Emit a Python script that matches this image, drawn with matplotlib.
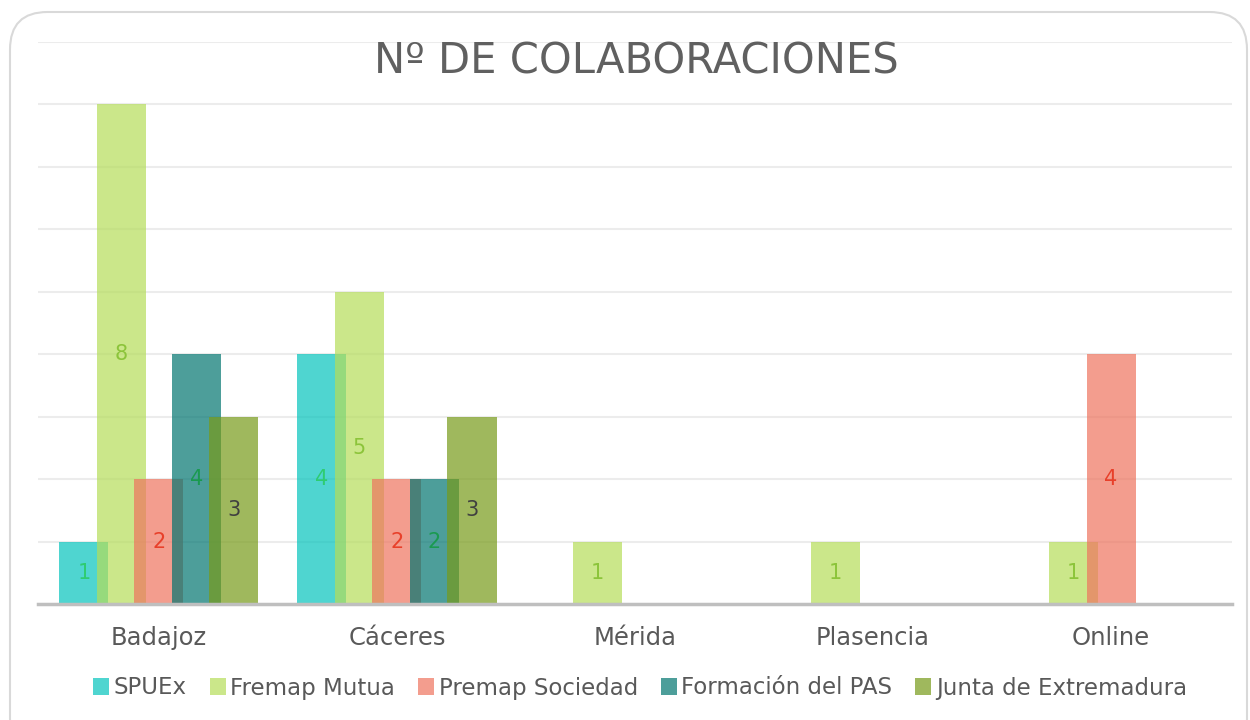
import numpy as np
import matplotlib.pyplot as plt
from matplotlib.patches import FancyBboxPatch, Patch

# Datos del gráfico
categorias = ["Badajoz", "Cáceres", "Mérida", "Plasencia", "Online"]
series = ["SPUEx", "Fremap Mutua", "Premap Sociedad", "Formación del PAS", "Junta de Extremadura"]
spuex = [1, 4, 0, 0, 0]
fremap = [8, 5, 1, 1, 1]
premap = [2, 2, 0, 0, 4]
formacion = [4, 2, 0, 0, 0]
junta = [3, 3, 0, 0, 0]
valores = [spuex, fremap, premap, formacion, junta]

colores = ["#04c4bc", "#b5dd59", "#ee745e", "#017570", "#779b19"]
colores_etiqueta = ["#2ecc71", "#8cc43a", "#e8402a", "#1a9a50", "#404040"]

plt.rcParams['font.family'] = ['DejaVu Sans']

fig = plt.figure(figsize=(12.5, 7.2), dpi=100)
ax = fig.add_axes([38 / 1250, 1 - 604 / 720, 1194 / 1250, 562 / 720])

# Marco redondeado
marco = FancyBboxPatch((10 / 1250, -0.05), 1237 / 1250, 1.05 - 12 / 720,
                       boxstyle="round,pad=0,rounding_size=0.03",
                       transform=fig.transFigure, fill=False,
                       edgecolor="#d9d9d9", linewidth=1.5, mutation_aspect=1250 / 720)
fig.patches.append(marco)

x = np.arange(len(categorias))
ancho = 0.206
paso = 0.1576

for i, vals in enumerate(valores):
    pos = x + (i - 2) * paso
    for xp, v in zip(pos, vals):
        if v > 0:
            ax.bar(xp, v, width=ancho, color=colores[i], alpha=0.7, zorder=2 + i)

for i, vals in enumerate(valores):
    pos = x + (i - 2) * paso
    for xp, v in zip(pos, vals):
        if v > 0:
            ax.text(xp, v / 2, str(v), ha="center", va="center", fontsize=15,
                    color=colores_etiqueta[i], zorder=10)

ax.set_xlim(-0.508, 4.508)
ax.set_ylim(0, 9)
ax.set_yticks(range(0, 10))
ax.yaxis.grid(True, color="#ececec", linewidth=1.5, zorder=0)
ax.set_axisbelow(True)
ax.tick_params(axis="y", left=False, labelleft=False)
ax.tick_params(axis="x", length=0, pad=16, labelsize=17.5, labelcolor="#595959")
ax.set_xticks(x)
ax.set_xticklabels(categorias)
for s in ["top", "left", "right"]:
    ax.spines[s].set_visible(False)
ax.spines["bottom"].set_color("#bfbfbf")
ax.spines["bottom"].set_linewidth(2.5)
ax.spines["bottom"].set_zorder(20)

fig.text(636 / 1250, 1 - 61 / 720, "Nº DE COLABORACIONES", ha="center", va="center",
         fontsize=30, color="#606060")

handles = [Patch(facecolor=c, alpha=0.7, edgecolor="none") for c in colores]
fig.legend(handles, series, loc="center", bbox_to_anchor=(640 / 1250, 1 - 688 / 720),
           ncol=5, frameon=False, fontsize=16.5, labelcolor="#595959",
           handlelength=0.7, handleheight=0.7, handletextpad=0.2, columnspacing=1.0)

fig.savefig("out.png", dpi=100)
